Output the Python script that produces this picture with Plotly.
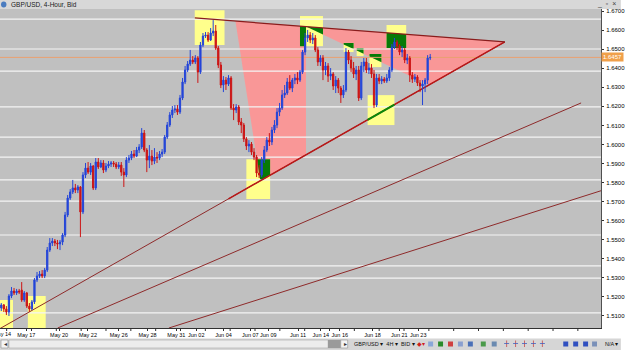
import plotly.graph_objects as go

# ---------------- data (GBP/USD 4-hour bars) ----------------
opens = [1.5142, 1.5158, 1.5137, 1.5121, 1.5205, 1.5231, 1.5221, 1.5231, 1.5236, 1.5184,
         1.5221, 1.5152, 1.5137, 1.5174, 1.5289, 1.5310, 1.5320, 1.5310, 1.5341, 1.5446,
         1.5483, 1.5493, 1.5483, 1.5478, 1.5488, 1.5525, 1.5630, 1.5719, 1.5751, 1.5772,
         1.5761, 1.5777, 1.5646, 1.5840, 1.5876, 1.5855, 1.5887, 1.5772, 1.5908, 1.5882,
         1.5903, 1.5866, 1.5887, 1.5897, 1.5903, 1.5897, 1.5882, 1.5892, 1.5855, 1.5840,
         1.5918, 1.5929, 1.5950, 1.5939, 1.5971, 1.5987, 1.6060, 1.5971, 1.5918, 1.5939,
         1.5913, 1.5934, 1.5929, 1.5950, 1.5960, 1.6039, 1.6102, 1.6155, 1.6181, 1.6186,
         1.6170, 1.6244, 1.6328, 1.6391, 1.6422, 1.6443, 1.6433, 1.6454, 1.6380, 1.6522,
         1.6569, 1.6574, 1.6548, 1.6585, 1.6595, 1.6506, 1.6417, 1.6312, 1.6338, 1.6317,
         1.6349, 1.6191, 1.6181, 1.6197, 1.6118, 1.6102, 1.6029, 1.5992, 1.6002, 1.5960,
         1.5934, 1.5850, 1.5840, 1.5918, 1.5971, 1.6023, 1.6013, 1.6076, 1.6102, 1.6170,
         1.6191, 1.6260, 1.6270, 1.6328, 1.6296, 1.6338, 1.6349, 1.6338, 1.6380, 1.6485,
         1.6559, 1.6574, 1.6548, 1.6559, 1.6496, 1.6433, 1.6454, 1.6391, 1.6412, 1.6359,
         1.6370, 1.6307, 1.6338, 1.6296, 1.6260, 1.6286, 1.6485, 1.6443, 1.6401, 1.6370,
         1.6391, 1.6244, 1.6412, 1.6433, 1.6391, 1.6401, 1.6370, 1.6207, 1.6349, 1.6333,
         1.6343, 1.6333, 1.6349, 1.6391, 1.6511, 1.6538, 1.6517, 1.6485, 1.6496, 1.6443,
         1.6454, 1.6364, 1.6343, 1.6354, 1.6323, 1.6307, 1.6317, 1.6338, 1.6454]
highs = [1.5168, 1.5163, 1.5152, 1.5215, 1.5252, 1.5247, 1.5242, 1.5242, 1.5278, 1.5231,
         1.5226, 1.5168, 1.5184, 1.5299, 1.5331, 1.5336, 1.5341, 1.5352, 1.5462, 1.5509,
         1.5509, 1.5504, 1.5499, 1.5499, 1.5535, 1.5646, 1.5735, 1.5766, 1.5814, 1.5793,
         1.5787, 1.5782, 1.5855, 1.5903, 1.5908, 1.5903, 1.5892, 1.5929, 1.5929, 1.5918,
         1.5918, 1.5903, 1.5913, 1.5913, 1.5913, 1.5908, 1.5908, 1.5908, 1.5876, 1.5934,
         1.5945, 1.5966, 1.5971, 1.5987, 1.6002, 1.6086, 1.6076, 1.5981, 1.5997, 1.5971,
         1.5981, 1.5960, 1.5966, 1.5976, 1.6050, 1.6118, 1.6170, 1.6202, 1.6207, 1.6207,
         1.6260, 1.6349, 1.6412, 1.6438, 1.6496, 1.6464, 1.6469, 1.6464, 1.6538, 1.6585,
         1.6590, 1.6590, 1.6611, 1.6653, 1.6627, 1.6517, 1.6433, 1.6359, 1.6354, 1.6364,
         1.6359, 1.6212, 1.6212, 1.6207, 1.6139, 1.6113, 1.6039, 1.6023, 1.6013, 1.5981,
         1.5945, 1.5892, 1.5934, 1.5992, 1.6039, 1.6060, 1.6092, 1.6128, 1.6191, 1.6218,
         1.6286, 1.6312, 1.6349, 1.6364, 1.6349, 1.6370, 1.6380, 1.6391, 1.6496, 1.6585,
         1.6601, 1.6590, 1.6585, 1.6574, 1.6511, 1.6469, 1.6469, 1.6433, 1.6427, 1.6401,
         1.6380, 1.6359, 1.6349, 1.6307, 1.6312, 1.6506, 1.6496, 1.6464, 1.6433, 1.6412,
         1.6412, 1.6433, 1.6454, 1.6454, 1.6427, 1.6422, 1.6391, 1.6370, 1.6370, 1.6359,
         1.6354, 1.6370, 1.6406, 1.6527, 1.6559, 1.6548, 1.6527, 1.6517, 1.6506, 1.6475,
         1.6464, 1.6380, 1.6370, 1.6364, 1.6338, 1.6338, 1.6349, 1.6469, 1.6475]
lows = [1.5126, 1.5121, 1.5105, 1.5100, 1.5194, 1.5210, 1.5210, 1.5215, 1.5174, 1.5174,
        1.5142, 1.5121, 1.5131, 1.5163, 1.5278, 1.5299, 1.5299, 1.5299, 1.5331, 1.5436,
        1.5467, 1.5467, 1.5451, 1.5446, 1.5472, 1.5514, 1.5619, 1.5709, 1.5740, 1.5745,
        1.5745, 1.5514, 1.5635, 1.5824, 1.5845, 1.5840, 1.5761, 1.5761, 1.5871, 1.5876,
        1.5850, 1.5855, 1.5876, 1.5882, 1.5882, 1.5871, 1.5871, 1.5835, 1.5777, 1.5829,
        1.5903, 1.5918, 1.5929, 1.5934, 1.5955, 1.5976, 1.5960, 1.5855, 1.5876, 1.5892,
        1.5897, 1.5903, 1.5918, 1.5934, 1.5950, 1.6029, 1.6092, 1.6139, 1.6165, 1.6155,
        1.6160, 1.6233, 1.6317, 1.6380, 1.6412, 1.6422, 1.6422, 1.6323, 1.6370, 1.6511,
        1.6559, 1.6538, 1.6543, 1.6569, 1.6496, 1.6401, 1.6296, 1.6275, 1.6286, 1.6307,
        1.6181, 1.6128, 1.6165, 1.6102, 1.6060, 1.6013, 1.5971, 1.5960, 1.5945, 1.5918,
        1.5829, 1.5824, 1.5829, 1.5903, 1.5960, 1.5992, 1.5997, 1.6060, 1.6086, 1.6149,
        1.6181, 1.6244, 1.6260, 1.6286, 1.6275, 1.6317, 1.6317, 1.6328, 1.6370, 1.6469,
        1.6538, 1.6532, 1.6527, 1.6485, 1.6412, 1.6412, 1.6338, 1.6364, 1.6328, 1.6338,
        1.6286, 1.6270, 1.6270, 1.6218, 1.6244, 1.6275, 1.6422, 1.6380, 1.6349, 1.6338,
        1.6228, 1.6233, 1.6380, 1.6375, 1.6370, 1.6349, 1.6191, 1.6197, 1.6317, 1.6317,
        1.6323, 1.6323, 1.6333, 1.6380, 1.6501, 1.6496, 1.6469, 1.6459, 1.6427, 1.6422,
        1.6328, 1.6323, 1.6328, 1.6307, 1.6275, 1.6207, 1.6275, 1.6317, 1.6443]
closes = [1.5158, 1.5137, 1.5121, 1.5205, 1.5231, 1.5221, 1.5231, 1.5226, 1.5184, 1.5221,
          1.5152, 1.5137, 1.5174, 1.5289, 1.5310, 1.5320, 1.5310, 1.5341, 1.5446, 1.5483,
          1.5493, 1.5483, 1.5478, 1.5488, 1.5525, 1.5630, 1.5719, 1.5751, 1.5772, 1.5761,
          1.5777, 1.5646, 1.5840, 1.5876, 1.5855, 1.5887, 1.5772, 1.5908, 1.5882, 1.5903,
          1.5866, 1.5887, 1.5897, 1.5903, 1.5897, 1.5882, 1.5892, 1.5855, 1.5840, 1.5918,
          1.5929, 1.5950, 1.5939, 1.5971, 1.5987, 1.6060, 1.5971, 1.5918, 1.5939, 1.5913,
          1.5934, 1.5929, 1.5950, 1.5960, 1.6039, 1.6102, 1.6155, 1.6181, 1.6186, 1.6170,
          1.6244, 1.6328, 1.6391, 1.6422, 1.6443, 1.6433, 1.6454, 1.6380, 1.6522, 1.6569,
          1.6574, 1.6548, 1.6585, 1.6595, 1.6506, 1.6417, 1.6312, 1.6338, 1.6317, 1.6349,
          1.6191, 1.6181, 1.6197, 1.6118, 1.6102, 1.6029, 1.5992, 1.6002, 1.5960, 1.5934,
          1.5850, 1.5840, 1.5918, 1.5971, 1.6023, 1.6013, 1.6076, 1.6102, 1.6170, 1.6191,
          1.6260, 1.6270, 1.6328, 1.6296, 1.6338, 1.6349, 1.6338, 1.6380, 1.6485, 1.6559,
          1.6574, 1.6548, 1.6559, 1.6496, 1.6433, 1.6454, 1.6391, 1.6412, 1.6359, 1.6370,
          1.6307, 1.6338, 1.6296, 1.6260, 1.6286, 1.6485, 1.6443, 1.6401, 1.6370, 1.6391,
          1.6244, 1.6412, 1.6433, 1.6391, 1.6401, 1.6370, 1.6207, 1.6349, 1.6333, 1.6343,
          1.6333, 1.6349, 1.6391, 1.6511, 1.6538, 1.6517, 1.6485, 1.6496, 1.6443, 1.6454,
          1.6364, 1.6343, 1.6354, 1.6323, 1.6307, 1.6317, 1.6338, 1.6454, 1.6457]
bars = list(range(len(closes)))

date_ticks = [9.81, 22.65, 33.94, 46.0, 57.28, 68.57, 76.35, 87.05, 97.55, 104.56,
              116.23, 125.18, 132.57, 145.42, 155.92, 163.31]
date_labels = ["May 17", "May 20", "May 22", "May 26", "May 28", "May 31", "Jun 02",
               "Jun 04", "Jun 07", "Jun 09", "Jun 11", "Jun 14", "Jun 16", "Jun 18",
               "Jun 21", "Jun 23"]
price_ticks = [1.51, 1.52, 1.53, 1.54, 1.55, 1.56, 1.57, 1.58, 1.59, 1.60, 1.61,
               1.62, 1.63, 1.64, 1.65, 1.66, 1.67]
levels = [1.6658, 1.6501, 1.6385, 1.6197, 1.6039, 1.5934, 1.5814, 1.5703, 1.5525,
          1.5363, 1.5299, 1.5116]
last_price = 1.6457

# trend lines (bar index, price)
top_x, top_y = [75.8, 197.2], [1.6664, 1.6538]
low_x, low_y = [-0.5, 197.2], [1.5034, 1.6538]
lineB_x, lineB_y = [22.1, 227.1], [1.5037, 1.6218]
lineC_x, lineC_y = [65.65, 240.0], [1.5037, 1.5779]
zone1_x = [91.7, 119.35, 101.45]     # triangle-zone 1 anchors
zone2_x = [119.35, 197.2, 167.6]     # triangle-zone 2 anchors
# highlight rectangles
box_x0 = [-0.5, 10.4, 75.77, 96.0, 117.0, 143.5, 150.9, 134.1, 139.2, 144.2]
box_x1 = [4.6, 17.4, 87.44, 105.3, 126.0, 154.0, 158.6, 138.0, 141.9, 148.9]
box_y0 = [1.50, 1.50, 1.6522, 1.5714, 1.6516, 1.6102, 1.6506, 1.6485, 1.6464, 1.6406]
box_y1 = [1.5184, 1.5205, 1.6705, 1.5923, 1.6674, 1.6259, 1.6627, 1.6533, 1.6506, 1.6475]

# ---------------- helpers ----------------
def interp(xs, ys, x):
    return ys[0] + (ys[1] - ys[0]) * (x - xs[0]) / (xs[1] - xs[0])

def top(x):
    return interp(top_x, top_y, x)

def low(x):
    return interp(low_x, low_y, x)

zone1 = [(zone1_x[0], top(zone1_x[0])), (zone1_x[1], top(zone1_x[1])),
         (zone1_x[1], low(zone1_x[1])), (zone1_x[2], low(zone1_x[2]))]
zone2 = [(zone2_x[0], top(zone2_x[0])), (zone2_x[1], top(zone2_x[1])),
         (zone2_x[2], low(zone2_x[2]))]

def area(poly):
    s = 0
    for i in range(len(poly)):
        x1, y1 = poly[i]
        x2, y2 = poly[(i + 1) % len(poly)]
        s += x1 * y2 - x2 * y1
    return s

def clip(subject, clipper):
    sign = 1 if area(clipper) > 0 else -1
    out = subject
    for i in range(len(clipper)):
        a = clipper[i]
        b = clipper[(i + 1) % len(clipper)]
        def inside(p):
            return sign * ((b[0] - a[0]) * (p[1] - a[1]) - (b[1] - a[1]) * (p[0] - a[0])) >= 0
        def inter(p, q):
            dx1, dy1 = q[0] - p[0], q[1] - p[1]
            dx2, dy2 = b[0] - a[0], b[1] - a[1]
            den = dx1 * dy2 - dy1 * dx2
            t = ((a[0] - p[0]) * dy2 - (a[1] - p[1]) * dx2) / den
            return (p[0] + t * dx1, p[1] + t * dy1)
        inp = out
        out = []
        if not inp:
            break
        s = inp[-1]
        for e in inp:
            if inside(e):
                if not inside(s):
                    out.append(inter(s, e))
                out.append(e)
            elif inside(s):
                out.append(inter(s, e))
            s = e
    return out

def path(poly):
    return "M " + " L ".join(f"{x},{y}" for x, y in poly) + " Z"

# ---------------- figure ----------------
fig = go.Figure()
fig.add_trace(go.Candlestick(
    x=bars, open=opens, high=highs, low=lows, close=closes,
    increasing=dict(line=dict(color="#2445d8", width=1), fillcolor="#2445d8"),
    decreasing=dict(line=dict(color="#cc1414", width=1), fillcolor="#cc1414"),
    whiskerwidth=0, hoverinfo="skip"))

shapes = []
PINK, YEL, GRN = "#f99797", "#ffff8c", "#077a07"
for z in (zone1, zone2):
    shapes.append(dict(type="path", path=path(z), xref="x", yref="y",
                       fillcolor=PINK, line=dict(width=0), layer="below"))
for x0, x1, y0, y1 in zip(box_x0, box_x1, box_y0, box_y1):
    shapes.append(dict(type="rect", x0=x0, x1=x1, y0=y0, y1=y1, xref="x", yref="y",
                       fillcolor=YEL, line=dict(width=0), layer="below"))
    rect = [(x0, y0), (x1, y0), (x1, y1), (x0, y1)]
    for z in (zone1, zone2):
        g = clip(rect, z)
        if len(g) >= 3:
            shapes.append(dict(type="path", path=path(g), xref="x", yref="y",
                               fillcolor=GRN, line=dict(width=0), layer="below"))
for lv in levels:
    shapes.append(dict(type="line", x0=-0.5, x1=240, y0=lv, y1=lv, xref="x", yref="y",
                       line=dict(color="#f4f4f4", width=1.2), layer="below"))
shapes.append(dict(type="line", x0=-0.5, x1=240, y0=last_price, y1=last_price, xref="x",
                   yref="y", line=dict(color="#e9a070", width=1), layer="below"))
# trend lines
shapes.append(dict(type="line", x0=low_x[0], y0=low_y[0], x1=low_x[1], y1=low_y[1],
                   xref="x", yref="y", line=dict(color="#8e2a2a", width=1), layer="below"))
shapes.append(dict(type="line", x0=89.0, y0=low(89.0), x1=low_x[1], y1=low_y[1],
                   xref="x", yref="y", line=dict(color="#b81818", width=1.5), layer="below"))
shapes.append(dict(type="line", x0=box_x0[5], y0=low(box_x0[5]), x1=box_x1[5],
                   y1=low(box_x1[5]), xref="x", yref="y",
                   line=dict(color="#0a8a0a", width=2), layer="below"))
shapes.append(dict(type="line", x0=top_x[0], y0=top_y[0], x1=top_x[1], y1=top_y[1],
                   xref="x", yref="y", line=dict(color="#8a1c1c", width=1.3), layer="below"))
for lx, ly in ((lineB_x, lineB_y), (lineC_x, lineC_y)):
    shapes.append(dict(type="line", x0=lx[0], y0=ly[0], x1=lx[1], y1=ly[1],
                       xref="x", yref="y", line=dict(color="#8e2a2a", width=1), layer="below"))

# window chrome (paper coords; plot area = 605 x 319 px)
PW, PH = 605.0, 319.0
def px(v):
    return v / PW
def py(v):  # screen y -> paper y
    return (328.0 - v) / PH

# regular small ticks along the time scale
for k in range(25):
    tx = 6.7 + 25 * k
    if tx < 604:
        shapes.append(dict(type="line", xref="paper", yref="paper", x0=px(tx), x1=px(tx),
                           y0=py(328), y1=py(331), line=dict(color="#303030", width=1)))

shapes.append(dict(type="rect", xref="paper", yref="paper", x0=px(0), x1=px(625),
                   y0=py(9), y1=py(0), fillcolor="#d8d8d8", line=dict(width=0)))
shapes.append(dict(type="circle", xref="paper", yref="paper", x0=px(1), x1=px(6.5),
                   y0=py(7.5), y1=py(1.5), fillcolor="#4a7cc0", line=dict(width=0)))
shapes.append(dict(type="rect", xref="paper", yref="paper", x0=px(0), x1=px(625),
                   y0=py(350), y1=py(338.5), fillcolor="#d6d6d6", line=dict(width=0)))
shapes.append(dict(type="rect", xref="paper", yref="paper", x0=px(9), x1=px(343),
                   y0=py(348), y1=py(340), fillcolor="#ececec",
                   line=dict(color="#a8a8a8", width=0.6)))
shapes.append(dict(type="rect", xref="paper", yref="paper", x0=px(330), x1=px(343),
                   y0=py(348), y1=py(340), fillcolor="#9a9a9a", line=dict(width=0)))
for bx in (1, 343):
    shapes.append(dict(type="rect", xref="paper", yref="paper", x0=px(bx), x1=px(bx + 7),
                       y0=py(348), y1=py(340), fillcolor="#f4f4f4",
                       line=dict(color="#909090", width=0.6)))
icon_x = [431, 441, 451, 461, 471, 484, 495, 567, 577, 587, 596]
icon_c = ["#8aa6d8", "#2a8a2a", "#d04040", "#8aa0d0", "#4a70b8", "#4a9a4a", "#6a8ab0",
          "#3050c0", "#3050c0", "#3050c0", "#7a90b8"]
for ix, ic in zip(icon_x, icon_c):
    shapes.append(dict(type="rect", xref="paper", yref="paper", x0=px(ix), x1=px(ix + 5),
                       y0=py(346.5), y1=py(341.5), fillcolor=ic, line=dict(width=0)))
for ix in (510, 519, 528, 537, 546):
    shapes.append(dict(type="line", xref="paper", yref="paper", x0=px(ix), x1=px(ix),
                       y0=py(347), y1=py(340.5), line=dict(color="#c84848", width=0.8)))
    shapes.append(dict(type="line", xref="paper", yref="paper", x0=px(ix - 2.5),
                       x1=px(ix + 2.5), y0=py(343.5), y1=py(343.5),
                       line=dict(color="#4060c0", width=0.8)))

ann = []
def text(t, x, y, size=6, color="#111111", anchor="left", bg=None):
    d = dict(text=t, xref="paper", yref="paper", x=px(x), y=py(y), xanchor=anchor,
             yanchor="middle", showarrow=False, font=dict(size=size, color=color,
             family="Arial"))
    if bg:
        d.update(bgcolor=bg, borderpad=1)
    ann.append(d)

text("GBP/USD, 4-Hour, Bid", 9, 4.6, size=6.5, color="#1a1a1a")
text("_  \u25ab  \u00d7", 622, 4.2, size=7, color="#404040", anchor="right")
text("May 14", -9, 333.5, size=5.5, anchor="left", color="#000000")
text("\u25c2", 2.2, 344, size=6, color="#333333")
text("\u25b8", 344.5, 344, size=6, color="#333333")
text("GBP/USD \u25be  4H \u25be  BID \u25be", 354, 344, size=5.5, color="#111111")
text("\u25c6\u25be", 418, 344, size=5.5, color="#d02020")
text("N/A \u25be", 607, 344, size=5.5, color="#111111")
ann.append(dict(text=f"{last_price:.4f}", xref="paper", yref="y", x=1.0, y=last_price,
                xanchor="left", yanchor="middle", showarrow=False, bgcolor="#f0a04a",
                borderpad=1, font=dict(size=6, color="#ffffff", family="Arial")))

fig.update_layout(
    width=625, height=350, autosize=False,
    margin=dict(l=0, r=20, t=9, b=22, pad=0),
    paper_bgcolor="#ffffff", plot_bgcolor="#c0c0c0",
    showlegend=False, shapes=shapes, annotations=ann,
    xaxis=dict(range=[-0.5, 234.9], rangeslider=dict(visible=False), showgrid=False,
               zeroline=False, showline=True, linecolor="#303030", linewidth=1,
               tickmode="array", tickvals=date_ticks, ticktext=date_labels,
               ticks="outside", ticklen=2, tickcolor="#303030", tickangle=0,
               tickfont=dict(size=5.5, color="#000000", family="Arial"),
               ticklabelstandoff=-1, fixedrange=True),
    yaxis=dict(side="right", range=[1.5037, 1.6711], showgrid=False, zeroline=False,
               showline=True, linecolor="#505050", linewidth=1, tickvals=price_ticks,
               tickformat=".4f", ticks="outside", ticklen=2, tickcolor="#303030",
               tickfont=dict(size=6, color="#000000", family="Arial"),
               ticklabelstandoff=1, fixedrange=True),
)
fig.write_html("out.html", config=dict(displayModeBar=False))
